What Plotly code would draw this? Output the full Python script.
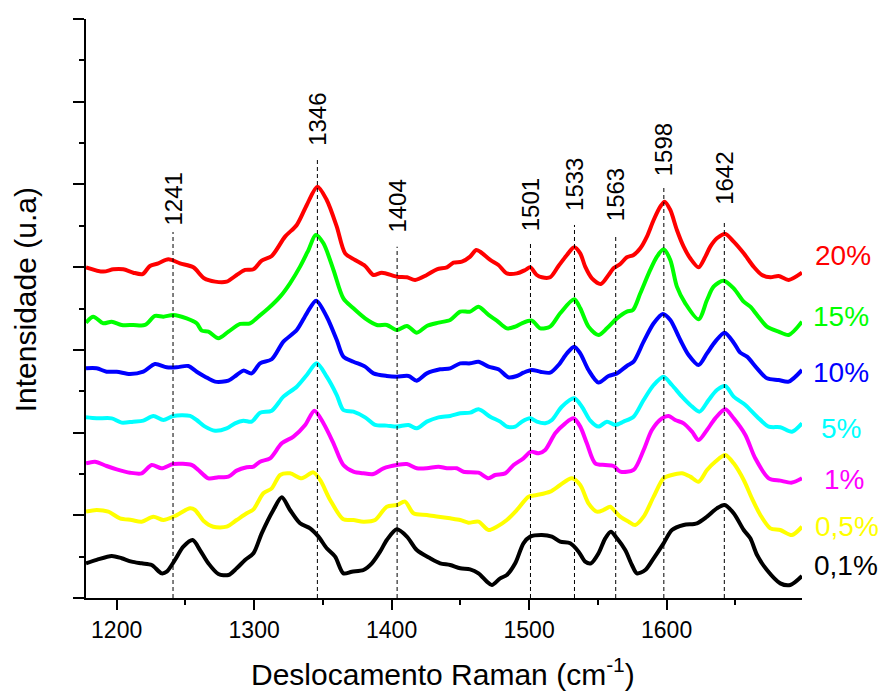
import plotly.graph_objects as go

# ---- data (wavenumber cm-1, intensity a.u.) ----
red_x = [1177.7,1190.3,1197.6,1204.8,1212.1,1218.9,1224.2,1230.3,1237.6,1246.1,1255.8,1263.6,1271.6,1280.0,1287.3,1293.4,1299.5,1305.5,1312.8,1322.5,1331.0,1338.3,1346.0,1352.8,1360.1,1366.2,1373.4,1380.7,1386.8,1392.9,1403.8,1411.1,1417.1,1425.6,1432.9,1440.2,1445.0,1451.1,1457.1,1461.5,1464.4,1471.7,1477.7,1483.8,1491.1,1497.2,1500.8,1505.6,1509.3,1515.3,1521.4,1527.5,1532.8,1537.2,1540.8,1545.7,1552.2,1557.8,1561.4,1566.3,1571.1,1576.0,1580.9,1585.7,1590.6,1595.4,1598.6,1602.7,1607.5,1612.4,1617.2,1623.3,1628.2,1631.8,1636.6,1642.7,1648.8,1656.1,1663.3,1669.4,1675.5,1681.5,1688.8,1698.5]
red_y = [3.998,3.946,3.974,3.974,3.933,3.917,4.014,4.046,4.095,4.046,3.998,3.865,3.825,3.825,3.905,3.966,3.974,4.079,4.135,4.369,4.510,4.752,4.973,4.812,4.490,4.167,4.087,4.014,3.905,3.933,3.885,3.877,3.845,3.905,3.974,3.998,4.054,4.066,4.127,4.207,4.187,4.087,4.026,3.925,3.925,3.966,3.998,3.905,3.877,3.877,4.014,4.147,4.240,4.167,4.006,3.865,3.797,3.905,3.986,4.038,4.119,4.147,4.228,4.369,4.570,4.731,4.792,4.691,4.449,4.248,4.107,3.998,4.127,4.248,4.349,4.401,4.308,4.167,4.006,3.905,3.877,3.893,3.845,3.933]

green_x = [1177.7,1183.0,1190.3,1196.4,1203.6,1212.1,1220.6,1227.9,1234.0,1241.2,1250.9,1258.2,1261.9,1266.7,1274.0,1281.3,1289.8,1297.0,1303.1,1310.4,1318.9,1326.1,1333.4,1339.5,1344.8,1350.4,1357.7,1364.9,1372.2,1380.7,1389.2,1396.5,1403.8,1411.1,1418.3,1425.6,1434.1,1442.6,1449.9,1457.1,1463.2,1470.5,1476.5,1483.8,1489.9,1494.7,1502.0,1508.1,1515.3,1522.6,1532.8,1537.2,1543.2,1550.5,1556.6,1563.9,1571.1,1575.5,1580.9,1588.1,1593.0,1597.8,1602.7,1607.5,1613.6,1623.3,1629.4,1634.2,1641.5,1648.8,1656.1,1660.9,1665.8,1673.0,1681.5,1688.8,1698.5]
green_y = [3.329,3.401,3.321,3.341,3.301,3.301,3.301,3.410,3.401,3.422,3.381,3.321,3.232,3.220,3.140,3.220,3.313,3.321,3.401,3.502,3.643,3.805,4.006,4.207,4.389,4.288,3.966,3.623,3.502,3.381,3.301,3.301,3.240,3.289,3.208,3.289,3.329,3.361,3.462,3.462,3.522,3.422,3.353,3.260,3.281,3.321,3.353,3.260,3.281,3.442,3.611,3.502,3.281,3.180,3.260,3.381,3.462,3.482,3.684,3.966,4.127,4.215,4.087,3.764,3.563,3.369,3.603,3.764,3.837,3.744,3.583,3.522,3.422,3.281,3.220,3.180,3.341]

blue_x = [1177.7,1185.4,1192.7,1200.0,1209.7,1219.4,1227.9,1236.4,1243.7,1252.1,1258.2,1264.3,1271.6,1281.3,1287.3,1292.2,1298.2,1304.3,1312.8,1321.3,1331.0,1338.3,1345.1,1352.8,1360.1,1364.9,1372.2,1380.7,1386.8,1396.5,1403.8,1412.3,1418.3,1425.6,1435.3,1442.6,1449.9,1457.1,1463.2,1470.5,1477.7,1485.0,1491.1,1495.9,1502.0,1508.1,1515.3,1521.4,1527.5,1532.8,1537.2,1543.2,1550.5,1557.8,1563.9,1571.1,1576.0,1583.3,1590.6,1597.3,1602.7,1610.0,1616.0,1623.3,1629.4,1635.4,1642.2,1648.8,1653.6,1658.5,1665.8,1673.0,1681.5,1688.8,1698.5]
blue_y = [2.777,2.777,2.736,2.736,2.708,2.736,2.829,2.789,2.789,2.805,2.736,2.676,2.616,2.628,2.696,2.749,2.716,2.837,2.886,3.099,3.240,3.442,3.595,3.401,3.119,2.918,2.857,2.797,2.716,2.684,2.676,2.684,2.628,2.716,2.765,2.777,2.837,2.837,2.857,2.797,2.765,2.668,2.684,2.724,2.757,2.736,2.724,2.817,2.958,3.039,2.958,2.757,2.604,2.684,2.716,2.805,2.857,3.099,3.321,3.434,3.361,3.119,2.938,2.817,2.958,3.099,3.208,3.087,2.966,2.918,2.777,2.656,2.636,2.616,2.757]

cyan_x = [1177.7,1185.4,1196.4,1203.6,1212.1,1219.4,1226.7,1234.0,1241.2,1253.4,1258.2,1264.3,1271.6,1280.0,1286.1,1292.2,1298.2,1304.3,1312.8,1321.3,1331.0,1338.3,1345.5,1352.8,1360.1,1364.9,1372.2,1380.7,1388.0,1396.5,1403.8,1412.3,1418.3,1425.6,1434.1,1442.6,1449.9,1457.1,1463.2,1471.7,1479.0,1483.8,1489.9,1494.7,1500.8,1505.6,1511.7,1516.6,1523.8,1532.8,1538.4,1544.5,1550.5,1556.6,1562.7,1568.7,1576.0,1583.3,1590.6,1597.8,1603.9,1611.2,1617.2,1624.0,1630.6,1636.6,1642.7,1648.8,1657.3,1665.8,1674.3,1682.7,1691.2,1698.5]
cyan_y = [2.184,2.172,2.172,2.120,2.132,2.144,2.201,2.152,2.201,2.201,2.152,2.072,2.023,2.051,2.112,2.144,2.132,2.241,2.265,2.434,2.555,2.696,2.837,2.676,2.454,2.273,2.253,2.184,2.092,2.084,2.072,2.092,2.051,2.132,2.184,2.201,2.233,2.241,2.281,2.192,2.132,2.072,2.072,2.132,2.172,2.132,2.112,2.152,2.313,2.414,2.313,2.144,2.072,2.132,2.092,2.132,2.192,2.394,2.575,2.676,2.575,2.434,2.334,2.253,2.394,2.515,2.563,2.434,2.334,2.192,2.072,2.064,2.011,2.112]

magenta_x = [1177.7,1184.2,1192.7,1200.0,1209.7,1218.2,1225.5,1232.7,1241.2,1254.6,1259.4,1266.7,1274.0,1281.3,1287.3,1294.6,1299.5,1304.3,1311.6,1320.1,1328.6,1337.1,1343.9,1350.4,1357.7,1364.9,1372.2,1379.5,1386.8,1394.1,1403.8,1411.1,1418.3,1425.6,1434.1,1440.2,1447.4,1452.3,1463.2,1470.5,1475.3,1482.6,1488.7,1495.9,1501.3,1506.9,1511.7,1519.0,1526.3,1532.3,1537.2,1542.0,1548.1,1555.4,1561.4,1566.3,1576.0,1583.3,1589.3,1596.6,1601.5,1606.3,1612.4,1618.5,1623.3,1629.4,1635.4,1642.7,1648.8,1657.3,1664.5,1674.3,1682.7,1691.2,1698.5]
magenta_y = [1.628,1.648,1.596,1.556,1.515,1.507,1.608,1.568,1.620,1.608,1.548,1.447,1.459,1.467,1.540,1.580,1.588,1.648,1.689,1.870,1.951,2.092,2.265,2.112,1.870,1.608,1.528,1.507,1.499,1.568,1.608,1.620,1.568,1.568,1.588,1.568,1.568,1.527,1.515,1.447,1.487,1.507,1.608,1.689,1.769,1.749,1.789,1.991,2.112,2.172,2.072,1.870,1.628,1.608,1.596,1.528,1.548,1.789,2.031,2.172,2.201,2.152,2.112,2.011,1.910,2.031,2.172,2.281,2.172,1.971,1.689,1.447,1.419,1.395,1.447]

yellow_x = [1177.7,1185.4,1193.9,1202.4,1210.9,1218.2,1226.7,1234.0,1242.4,1253.4,1257.0,1263.1,1270.3,1280.0,1287.3,1294.6,1299.5,1306.7,1312.8,1318.9,1326.1,1334.6,1343.1,1348.0,1355.3,1364.9,1372.2,1379.5,1388.0,1396.5,1403.8,1409.8,1415.9,1425.6,1434.1,1442.6,1449.9,1455.9,1463.2,1470.5,1476.5,1483.8,1491.1,1499.6,1505.6,1515.3,1522.6,1531.1,1537.2,1543.2,1549.3,1554.2,1559.0,1562.7,1566.3,1572.4,1577.2,1583.3,1590.6,1597.8,1603.9,1611.2,1617.2,1623.3,1629.4,1635.4,1642.7,1648.8,1656.1,1662.1,1668.2,1675.5,1682.7,1691.2,1698.5]
yellow_y = [1.044,1.064,1.044,0.963,0.943,0.923,0.983,0.943,0.991,1.084,1.064,0.935,0.862,0.862,0.943,1.024,1.072,1.266,1.326,1.487,1.507,1.447,1.519,1.427,1.185,0.951,0.943,0.923,0.943,1.104,1.124,1.165,1.024,1.004,0.983,0.963,0.943,0.911,0.923,0.822,0.862,0.943,1.064,1.225,1.245,1.286,1.366,1.447,1.366,1.145,1.044,1.064,1.104,1.044,0.983,0.923,0.883,0.983,1.225,1.447,1.487,1.507,1.467,1.406,1.548,1.648,1.729,1.628,1.427,1.205,1.004,0.842,0.822,0.762,0.862]

black_x = [1177.7,1185.4,1196.4,1203.6,1210.9,1218.2,1225.5,1232.7,1236.4,1242.4,1248.5,1255.3,1260.6,1266.7,1274.0,1281.3,1287.3,1293.4,1299.5,1305.5,1314.0,1320.1,1326.1,1333.4,1340.7,1346.8,1352.8,1358.9,1364.9,1371.0,1379.5,1385.6,1391.6,1396.5,1403.8,1411.1,1418.3,1428.0,1435.3,1442.6,1449.9,1457.1,1463.2,1469.3,1472.9,1479.0,1483.8,1489.9,1495.9,1500.8,1509.3,1516.6,1522.6,1529.9,1536.0,1540.8,1545.0,1550.5,1555.4,1559.5,1563.9,1569.9,1574.8,1578.4,1584.5,1590.6,1597.8,1603.9,1612.4,1622.1,1629.4,1636.6,1642.2,1648.8,1656.1,1660.9,1665.8,1673.0,1682.7,1690.0,1698.5]
black_y = [0.419,0.460,0.508,0.480,0.440,0.419,0.399,0.298,0.318,0.460,0.621,0.701,0.580,0.419,0.290,0.278,0.359,0.460,0.540,0.782,1.064,1.217,1.064,0.903,0.842,0.742,0.601,0.500,0.298,0.318,0.338,0.419,0.560,0.701,0.830,0.742,0.580,0.480,0.419,0.399,0.359,0.347,0.298,0.198,0.157,0.238,0.278,0.419,0.661,0.742,0.762,0.742,0.681,0.661,0.560,0.439,0.419,0.540,0.721,0.802,0.721,0.580,0.399,0.298,0.338,0.480,0.661,0.822,0.883,0.903,0.983,1.084,1.124,1.024,0.822,0.721,0.520,0.338,0.177,0.157,0.266]

series_labels = ["20%", "15%", "10%", "5%", "1%", "0,5%", "0,1%"]
series_colors = ["#FF0000", "#00FF00", "#0000FF", "#00FFFF", "#FF00FF", "#FFFF00", "#000000"]
series_x = [red_x, green_x, blue_x, cyan_x, magenta_x, yellow_x, black_x]
series_y = [red_y, green_y, blue_y, cyan_y, magenta_y, yellow_y, black_y]
label_y = [4.135, 3.403, 2.726, 2.049, 1.433, 0.864, 0.387]
label_xpaper = [1.0577, 1.0542, 1.0542, 1.0545, 1.0591, 1.0626, 1.0619]

peaks = [1241, 1346, 1404, 1501, 1533, 1563, 1598, 1642]
peak_line_top = [4.425, 5.308, 4.247, 4.288, 4.510, 4.389, 4.993, 4.570]
peak_label_base = [4.473, 5.441, 4.389, 4.409, 4.655, 4.534, 5.078, 4.727]

FONT = "Liberation Sans"

fig = go.Figure()
for xs, ys, c, name in zip(series_x, series_y, series_colors, series_labels):
    fig.add_trace(go.Scatter(x=xs, y=ys, mode="lines", name=name,
                             line=dict(color=c, width=4, shape="spline", smoothing=0.8),
                             showlegend=False, hoverinfo="skip"))

shapes = []
annotations = []
for p, top, base in zip(peaks, peak_line_top, peak_label_base):
    shapes.append(dict(type="line", xref="x", yref="y", x0=p, x1=p, y0=0, y1=top,
                       line=dict(color="black", width=1, dash="4px,3px"), layer="above"))
    annotations.append(dict(x=p, y=base, xref="x", yref="y", text=str(p), textangle=-90,
                            showarrow=False, xanchor="center", yanchor="bottom",
                            font=dict(family=FONT, size=24, color="black")))

for lab, c, ly, lx in zip(series_labels, series_colors, label_y, label_xpaper):
    annotations.append(dict(x=lx, y=ly, xref="paper", yref="y", text=lab, showarrow=False,
                            xanchor="center", yanchor="middle",
                            font=dict(family=FONT, size=28, color=c)))

annotations.append(dict(x=-0.0852, y=0.516, xref="paper", yref="paper", text="Intensidade (u.a)",
                        textangle=-90, showarrow=False, xanchor="center", yanchor="middle",
                        font=dict(family=FONT, size=30, color="black")))
annotations.append(dict(x=0.499, y=-0.127, xref="paper", yref="paper",
                        text="Deslocamento Raman (cm<sup>-1</sup>)", showarrow=False,
                        xanchor="center", yanchor="middle",
                        font=dict(family=FONT, size=30, color="black")))

fig.update_layout(
    width=881, height=691,
    margin=dict(l=86, r=79.3, t=19, b=93, pad=0),
    paper_bgcolor="white", plot_bgcolor="white",
    font=dict(family=FONT),
    shapes=shapes, annotations=annotations,
    xaxis=dict(range=[1177.7, 1698.5], showline=True, linecolor="black", linewidth=2,
               ticks="outside", ticklen=10, tickwidth=2, tickcolor="black",
               tick0=1200, dtick=100, showgrid=False, zeroline=False,
               tickfont=dict(family=FONT, size=23, color="black"),
               minor=dict(ticks="outside", ticklen=5, tickwidth=2, tickcolor="black",
                          dtick=50, tick0=1200, showgrid=False)),
    yaxis=dict(range=[0, 7], showline=True, linecolor="black", linewidth=2,
               ticks="outside", ticklen=11, tickwidth=2, tickcolor="black",
               tick0=0, dtick=1, showticklabels=False, showgrid=False, zeroline=False,
               minor=dict(ticks="outside", ticklen=5, tickwidth=2, tickcolor="black",
                          dtick=0.5, tick0=0, showgrid=False)),
)

fig.write_html("out.html")
